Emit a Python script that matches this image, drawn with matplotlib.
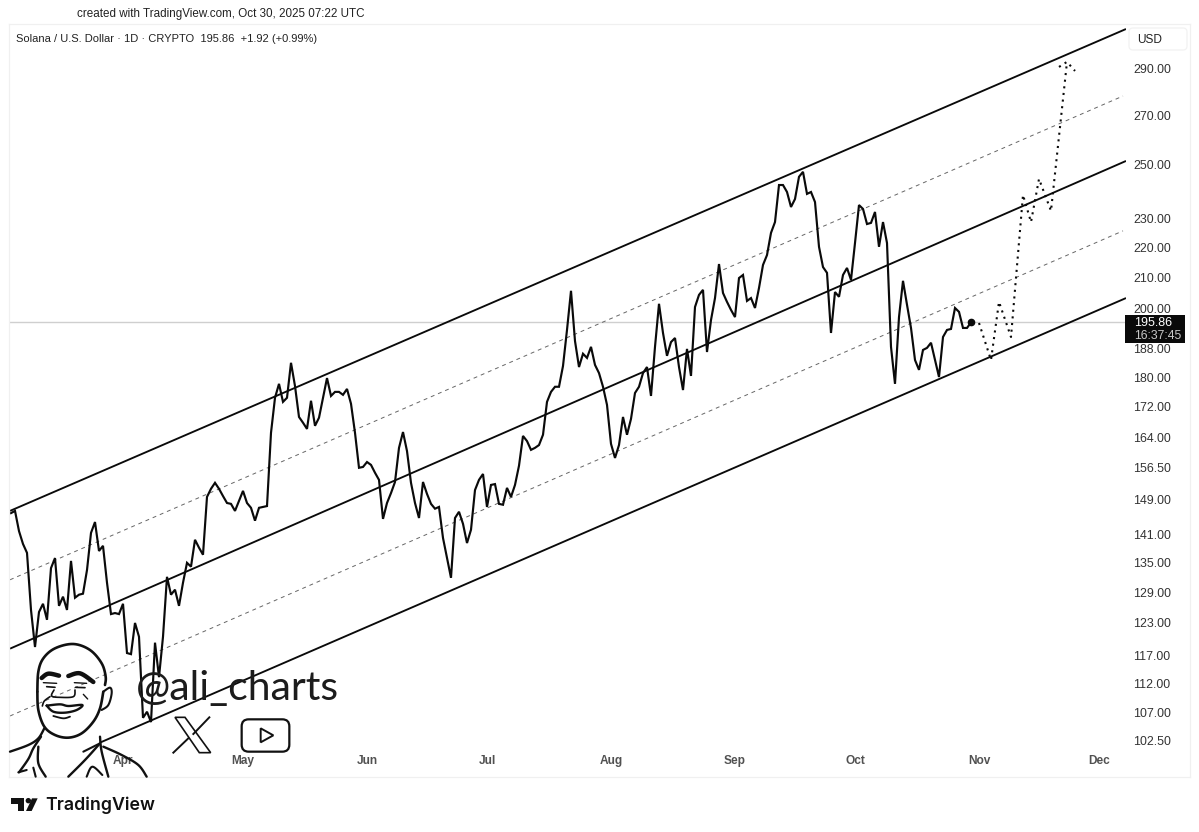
import numpy as np
import pandas as pd
import matplotlib
matplotlib.use('Agg')
import matplotlib.pyplot as plt
import matplotlib.dates as mdates
from matplotlib.patches import Rectangle, FancyBboxPatch, Polygon, Circle
from matplotlib.ticker import FixedLocator, FixedFormatter

# ---------- data ----------
price_start = '2025-03-04'
price_end = '2025-10-30'
prices = [
145.8,146.3,141.8,139.0,137.1,125.5,118.5,125.1,126.7,123.6,133.9,136.0,126.3,128.1,125.5,
135.4,127.9,128.5,128.7,133.5,141.4,143.8,137.5,138.6,130.9,124.7,124.9,124.7,126.7,117.4,
117.2,123.0,120.4,106.2,107.2,105.5,119.3,113.1,120.4,132.1,128.5,129.5,126.3,130.9,135.0,
134.2,139.9,138.2,136.7,149.5,151.4,152.8,151.4,149.7,148.1,147.9,146.3,148.6,150.9,148.1,
147.0,144.1,147.0,147.2,147.4,165.1,174.3,178.1,173.2,174.3,184.0,177.5,169.2,167.7,166.1,
173.5,166.9,169.0,174.3,179.7,174.8,175.9,175.9,175.1,176.7,172.7,165.1,156.4,156.6,157.8,
157.1,155.2,153.5,144.5,148.1,150.4,153.0,161.3,165.3,160.5,152.8,148.1,144.7,153.0,150.2,
147.9,146.8,147.2,140.3,136.0,131.9,144.7,146.1,143.4,139.2,142.1,151.1,153.5,154.9,147.2,
152.3,152.5,147.9,147.7,151.6,149.5,152.3,156.9,164.3,163.0,160.8,161.3,162.0,164.6,173.2,
175.9,177.3,177.3,183.1,193.6,205.7,190.3,182.8,186.6,185.4,188.6,183.4,181.1,177.3,172.4,
162.3,158.8,162.0,169.2,164.6,168.7,175.6,177.3,181.1,182.8,174.8,188.6,201.6,192.7,186.0,
190.0,191.2,182.8,176.4,188.0,180.3,200.6,204.4,206.0,187.1,196.6,203.4,214.4,205.0,202.2,
199.7,197.5,209.8,210.8,202.5,203.4,200.3,206.6,214.1,217.4,225.0,228.8,242.3,242.3,239.7,
234.2,237.1,245.4,247.3,239.0,239.7,236.0,220.2,213.4,211.5,192.7,205.3,203.8,210.8,213.1,
209.2,221.5,234.9,233.5,228.1,228.5,232.4,220.2,228.8,221.5,188.6,178.1,197.5,208.9,201.3,
194.2,184.8,182.0,187.7,188.3,189.8,184.8,180.0,191.5,193.6,193.9,200.3,199.1,194.2,194.2,
195.86]

proj_dates = ['2025-11-01','2025-11-04','2025-11-06','2025-11-09','2025-11-12','2025-11-14',
              '2025-11-16','2025-11-19','2025-11-23']
proj_prices = [195.7,184.8,202.2,191.5,238.6,228.8,244.6,232.8,293.2]
arrow_dates = ['2025-11-21','2025-11-23','2025-11-25']
arrow_prices = [290.9,293.2,289.1]

channel_solid_dates = [['2025-03-03 18:00','2025-12-07 18:00'],
                       ['2025-03-03 18:00','2025-12-07 18:00'],
                       ['2025-03-26 06:00','2025-12-07 18:00']]
channel_solid_prices = [[146.3,308.5],[118.2,251.5],[102.2,203.4]]
channel_dash_dates = [['2025-03-03 18:00','2025-12-07 00:00'],
                      ['2025-03-03 18:00','2025-12-07 00:00']]
channel_dash_prices = [[131.5,278.1],[106.5,225.7]]

ytick_values = [290,270,250,230,220,210,200,188,180,172,164,156.5,149,141,135,129,123,117,112,107,102.5]
ytick_labels = ['%.2f' % v for v in ytick_values]
last_price = 195.86

W, H = 1199, 832
fig = plt.figure(figsize=(W/100, H/100), dpi=100, facecolor='white')
L, R, T, B = 10, 1126, 24, 777
ax = fig.add_axes([L/W, 1-B/H, (R-L)/W, (B-T)/H])
ax.set_yscale('log')
ax.set_ylim(96.9, 310.9)
d0 = mdates.date2num(pd.Timestamp('2025-04-01'))
ax.set_xlim(d0+(L-123)/4, d0+(R-123)/4)
for s in ax.spines.values():
    s.set_visible(False)

dates = pd.date_range(price_start, price_end, freq='D')
INK = '#0a0a0a'
ax.axhline(last_price, color='#cfcfcf', lw=1.0, zorder=1)
for dd, pp in zip(channel_dash_dates, channel_dash_prices):
    ax.plot(pd.to_datetime(dd), pp, color='#666666', lw=0.7, ls=(0, (4, 4)), zorder=2)
for dd, pp in zip(channel_solid_dates, channel_solid_prices):
    ax.plot(pd.to_datetime(dd), pp, color=INK, lw=1.35, zorder=3, solid_capstyle='butt')
ax.plot(dates, prices, color=INK, lw=1.55, zorder=4, solid_joinstyle='miter')
ax.plot(dates[-1:], prices[-1:], 'o', color=INK, ms=4.5, zorder=5)
ax.plot(pd.to_datetime(proj_dates), proj_prices, color=INK, lw=1.5, ls=(0, (1, 2.2)), zorder=4)
ax.plot(pd.to_datetime(arrow_dates), arrow_prices, color=INK, lw=1.5, ls=(0, (1, 2.2)), zorder=4)

ax.yaxis.tick_right()
ax.yaxis.set_major_locator(FixedLocator(ytick_values))
ax.yaxis.set_major_formatter(FixedFormatter(ytick_labels))
ax.yaxis.set_minor_locator(FixedLocator([]))
ax.tick_params(axis='y', which='both', length=0, pad=5.4, labelsize=8.9, labelcolor='#333333')
for t in ax.get_yticklabels():
    t.set_fontfamily('Liberation Sans')
ax.xaxis.set_major_locator(mdates.MonthLocator())
ax.xaxis.set_major_formatter(mdates.DateFormatter('%b'))
ax.tick_params(axis='x', length=0, pad=-16, labelsize=8.6, labelcolor='#333333')
for t in ax.get_xticklabels():
    t.set_fontfamily('Liberation Sans')
    t.set_fontweight('bold')
    t.set_alpha(0.85)

# overlay in pixel space for the TradingView frame and the watermark
ov = fig.add_axes([0, 0, 1, 1], facecolor='none', zorder=10)
ov.set_xlim(0, W); ov.set_ylim(H, 0); ov.axis('off')

for seg in [((9, 24), (1190, 24)), ((9, 777), (1190, 777)), ((9, 24), (9, 777)), ((1190, 24), (1190, 777))]:
    ov.plot(*zip(*seg), color='#f0f0f0', lw=0.9)

ov.text(77, 14, 'created with TradingView.com, Oct 30, 2025 07:22 UTC', fontsize=8.35, color='#222222',
        family='Liberation Sans', va='center')
ov.text(16, 39, 'Solana / U.S. Dollar · 1D · CRYPTO  195.86  +1.92 (+0.99%)', fontsize=8.0, color='#222222',
        family='Liberation Sans', va='center')

ov.add_patch(FancyBboxPatch((1131, 30), 54, 18, boxstyle='round,pad=2,rounding_size=4', fc='white', ec='#f2f2f2', lw=0.9))
ov.text(1137, 40, 'USD', fontsize=8.6, color='#222222', family='Liberation Sans', va='center')

ov.add_patch(Rectangle((1125, 315), 60, 28, fc='#0a0a0a', ec='none'))
ov.text(1134, 323, '195.86', fontsize=9.0, color='white', family='Liberation Sans', va='center')
ov.text(1134, 336, '16:37:45', fontsize=8.8, color='#c8c8c8', family='Liberation Sans', va='center')

def Z(pts):
    a = np.asarray(pts, float)
    return np.c_[a[:, 0]/3, 480 + a[:, 1]/3]

def P(pts):
    a = np.asarray(pts, float)
    return np.c_[5 + a[:, 0]/3, 635 + a[:, 1]/3]

def Q(pts):
    a = np.asarray(pts, float)
    return np.c_[130 + a[:, 0]/3, 660 + a[:, 1]/3]

def smooth(pts, n=8):
    p = P(pts)
    p = np.vstack([p[0], p, p[-1]])
    out = []
    for i in range(1, len(p)-2):
        for t in np.linspace(0, 1, n, endpoint=False):
            out.append(0.5*((2*p[i]) + (-p[i-1]+p[i+1])*t + (2*p[i-1]-5*p[i]+4*p[i+1]-p[i+2])*t**2
                            + (-p[i-1]+3*p[i]-3*p[i+1]+p[i+2])*t**3))
    out.append(p[-2])
    return np.array(out)

def stroke(pts, lw=1.5, color='#111111'):
    s = smooth(pts)
    ov.plot(s[:, 0], s[:, 1], color=color, lw=lw, solid_capstyle='round', solid_joinstyle='round')

# portrait (line art)
stroke([(97,170),(100,110),(115,70),(150,40),(205,27),(255,45),(290,85),(302,125),(300,150)], 1.9)
stroke([(97,170),(100,225),(118,275),(150,300),(190,308),(230,295),(265,260),(285,220),(295,170)], 1.9)
stroke([(295,170),(315,158),(320,175),(310,210),(290,225)], 1.5)
stroke([(110,129),(130,116),(162,122)], 3.2)
stroke([(190,123),(225,115),(265,141)], 3.2)
stroke([(115,143),(155,145)], 1.0); stroke([(125,155),(150,157)], 1.2)
stroke([(208,143),(245,145)], 1.0); stroke([(212,157),(240,158)], 1.2)
stroke([(147,165),(140,183),(165,187),(205,185),(210,165)], 1.2)
stroke([(135,185),(118,198),(112,213)], 1.2)
stroke([(235,178),(248,192)], 1.0)
stroke([(125,212),(165,208),(190,213),(232,210),(215,225),(180,233),(145,230),(125,212)], 1.7)
stroke([(145,243),(175,250),(195,245)], 1.3)
stroke([(15,350),(70,330),(100,310),(118,280)], 1.7)
stroke([(108,305),(85,340),(70,372),(42,412)], 1.7)
stroke([(100,335),(100,385),(122,425)], 1.7)
stroke([(40,412),(65,405)], 1.5)
stroke([(85,398),(92,425)], 1.5)
stroke([(285,305),(290,350),(310,425)], 1.7)
stroke([(235,350),(285,325)], 1.5)
stroke([(190,425),(240,375),(285,325)], 1.7)
stroke([(245,425),(262,395),(292,420)], 1.5)
stroke([(295,335),(350,360),(400,390),(425,425)], 1.7)

ov.text(135.5, 700.5, '@ali_charts', fontsize=29.5, color='#1c1c1c', family='Lato', fontweight='normal',
        va='baseline', ha='left', zorder=12)

# X logo
ov.add_patch(Polygon(Q([(135,172),(165,172),(242,278),(208,278)]), closed=True, fc='white', ec='#111111', lw=1.2, zorder=11))
ov.plot(*zip(*Q([(238,172),(190,222)])), color='#111111', lw=1.4, zorder=12)
ov.plot(*zip(*Q([(175,235),(130,278)])), color='#111111', lw=1.4, zorder=12)
# YouTube logo
a = Q([(335,178),(478,275)])
ov.add_patch(FancyBboxPatch(tuple(a[0]+[5, 5]), a[1, 0]-a[0, 0]-10, a[1, 1]-a[0, 1]-10,
                            boxstyle='round,pad=5,rounding_size=7', fc='white', ec='#111111', lw=1.6, zorder=11))
ov.add_patch(Polygon(Q([(392,205),(430,226),(392,247)]), closed=True, fc='white', ec='#111111', lw=1.4, zorder=12))

# TradingView wordmark
ov.add_patch(Polygon(Z([(33,955),(72,955),(72,993),(55,993),(55,972),(33,972)]), closed=True, fc='#111111', ec='none'))
ov.add_patch(Circle(tuple(Z([(85,962)])[0]), 2.7, fc='#111111', ec='none'))
ov.add_patch(Polygon(Z([(78,993),(95,993),(113,955),(96,955)]), closed=True, fc='#111111', ec='none'))
ov.text(45.5, 805, 'TradingView', fontsize=12.8, color='#111111', family='Inter', fontweight='semibold', va='center')

fig.savefig('out.png', dpi=100, facecolor='white')
